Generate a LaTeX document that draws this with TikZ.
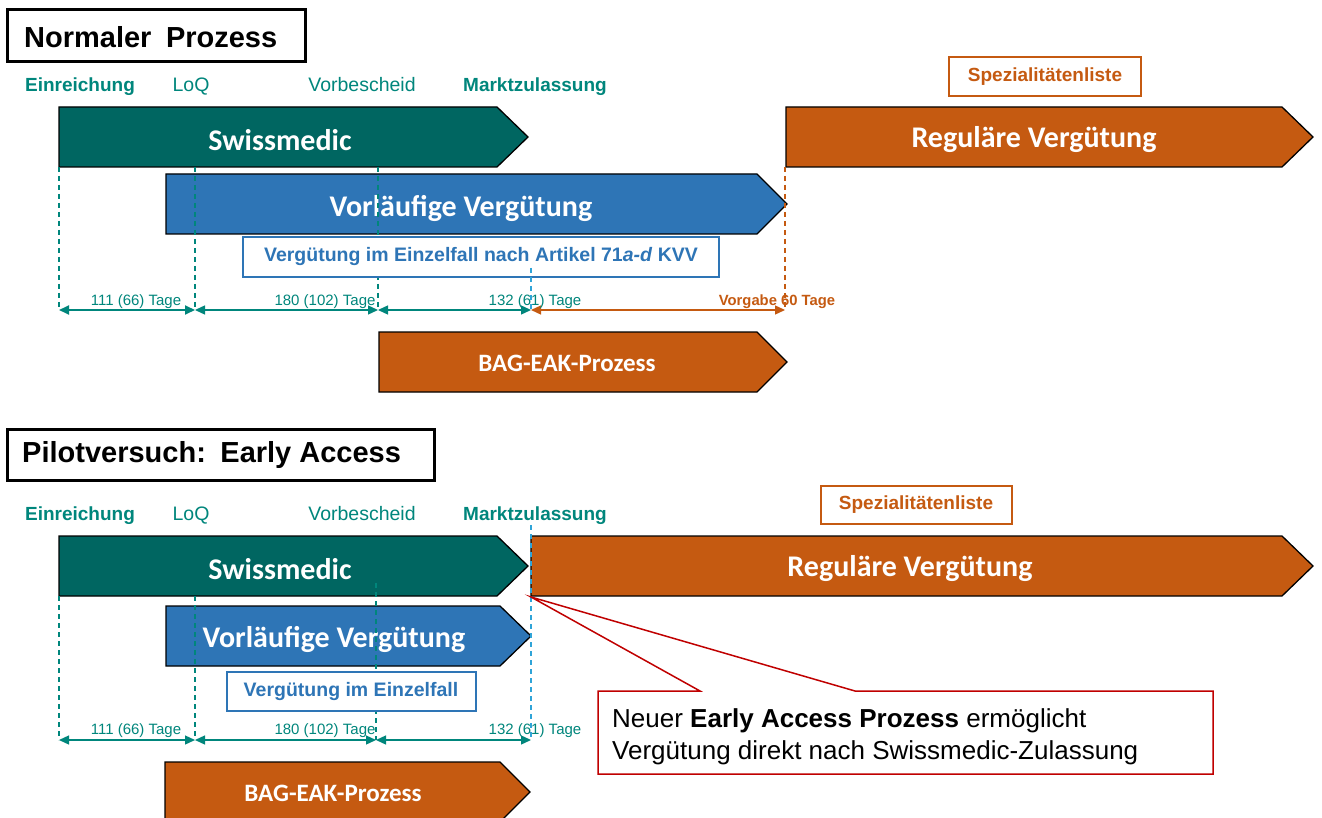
\documentclass[tikz,border=0pt]{standalone}
\usepackage{fontspec}
\setmainfont{Liberation Sans}
\newfontfamily\calfont{Carlito}
\usetikzlibrary{arrows.meta}
\definecolor{smteal}{HTML}{006661}
\definecolor{lblteal}{HTML}{00867C}
\definecolor{vblue}{HTML}{2E75B6}
\definecolor{borange}{HTML}{C55A11}
\definecolor{cred}{HTML}{C00000}
\definecolor{lblue}{HTML}{2FA4D8}
\tikzset{
  chev/.style={draw=black, line width=1.3pt},
  chevtext/.style={text=white, font=\calfont\bfseries\fontsize{30}{32}\selectfont, inner sep=0pt, yshift=-2pt},
  bagtext/.style={text=white, font=\calfont\bfseries\fontsize{25}{28}\selectfont, inner sep=0pt, yshift=-1pt},
  titlebox/.style={draw=black, line width=3pt, fill=white},
  titletext/.style={font=\bfseries\fontsize{29}{32}\selectfont, anchor=west, inner sep=0pt},
  mslabel/.style={text=lblteal, font=\fontsize{19.5}{22}\selectfont, inner sep=0pt, anchor=base},
  msbold/.style={mslabel, font=\bfseries\fontsize{19}{22}\selectfont},
  tage/.style={text=lblteal, font=\fontsize{15}{16}\selectfont, inner sep=0pt},
  vline/.style={lblteal, line width=1.2pt, dash pattern=on 5pt off 4pt},
  dimarrow/.style={lblteal, line width=1.3pt, {Triangle[length=10pt,width=9pt]}-{Triangle[length=10pt,width=9pt]}},
  bluebox/.style={draw=vblue, line width=2.5pt, fill=white},
  bluetext/.style={text=vblue, font=\bfseries\fontsize{19.5}{22}\selectfont, inner sep=0pt},
  orangebox/.style={draw=borange, line width=2.5pt, fill=white},
  orangetext/.style={text=borange, font=\bfseries\fontsize{19}{22}\selectfont, inner sep=0pt},
  callouttext/.style={font=\fontsize{26}{32}\selectfont, anchor=base west, inner sep=0pt},
}
\begin{document}
\begin{tikzpicture}[x=1pt,y=-1pt]
\useasboundingbox[fill=white] (0,0) rectangle (1322,818);

% ================= TOP: Normaler Prozess =================
\draw[titlebox] (7,10) rectangle (305,62);
\node[titletext] (t1) at (24,37) {Normaler\hspace{0.5em}Prozess};

\node[msbold]  (ein1) at (80,92) {Einreichung};
\node[mslabel] (loq1) at (191,92) {LoQ};
\node[mslabel] (vor1) at (362,92) {Vorbescheid};
\node[msbold]  (mz1)  at (535,92) {Marktzulassung};

\draw[orangebox] (949,57) rectangle (1141,96);
\node[orangetext] (sl1) at (1045,76.5) {Spezialitätenliste};

% chevrons
\path[chev, fill=smteal] (59,107) -- (497,107) -- (528,137) -- (497,167) -- (59,167) -- cycle;
\node[chevtext] (sm1) at (280,138) {Swissmedic};
\path[chev, fill=borange] (786,107) -- (1282,107) -- (1313,137) -- (1282,167) -- (786,167) -- cycle;
\node[chevtext] (rv1) at (1034,138) {Reguläre Vergütung};
\path[chev, fill=vblue] (166,174) -- (757,174) -- (787,204) -- (757,234) -- (166,234) -- cycle;
\node[chevtext] (vv1) at (461,206) {Vorläufige Vergütung};

% dashed verticals
\coordinate (a1t) at (59,167);  \coordinate (a1) at (59,310);
\coordinate (b1t) at (195,167); \coordinate (b1) at (195,310);
\coordinate (c1t) at (378,167); \coordinate (c1) at (378,310);
\coordinate (d1t) at (531,268); \coordinate (d1) at (531,310);
\coordinate (e1t) at (785,167); \coordinate (e1) at (785,310);
\draw[vline] (a1t) -- (a1);
\draw[vline] (b1t) -- (b1);
\draw[vline] (c1t) -- (c1);
\draw[vline, borange] (e1t) -- (e1);

\draw[bluebox] (243,237) rectangle (719,277);
\node[bluetext] (ve1) at (481,257) {Vergütung im Einzelfall nach Artikel 71\textit{a-d} KVV};

\draw[vline, lblue] (d1t) -- (d1);

% dimension arrows
\draw[dimarrow, line width=1.8pt] (a1) -- (b1);
\draw[dimarrow] (b1) -- (c1);
\draw[dimarrow] (c1) -- (d1);
\draw[dimarrow, borange] (d1) -- (e1);
\node[tage] (ta1) at (136,302) {111 (66) Tage};
\node[tage] (tb1) at (325,302) {180 (102) Tage};
\node[tage] (tc1) at (535,302) {132 (61) Tage};
\node[tage, text=borange, font=\bfseries\fontsize{14.8}{16}\selectfont] (td1) at (777,302) {Vorgabe 60 Tage};

\path[chev, fill=borange] (379,332) -- (757,332) -- (787,362) -- (757,392) -- (379,392) -- cycle;
\node[bagtext] (bag1) at (567,362) {BAG-EAK-Prozess};

% ================= BOTTOM: Pilotversuch =================
\draw[titlebox] (7,429) rectangle (434,480);
\node[titletext] (t2) at (22,455) {Pilotversuch:\hspace{0.5em}Early Access};

\node[msbold]  (ein2) at (80,520) {Einreichung};
\node[mslabel] (loq2) at (191,520) {LoQ};
\node[mslabel] (vor2) at (362,520) {Vorbescheid};
\node[msbold]  (mz2)  at (535,520) {Marktzulassung};

\draw[orangebox] (821,486) rectangle (1012,524);
\node[orangetext] (sl2) at (916,505) {Spezialitätenliste};

\path[chev, fill=smteal] (59,536) -- (497,536) -- (528,566) -- (497,596) -- (59,596) -- cycle;
\node[chevtext] (sm2) at (280,567) {Swissmedic};
\path[chev, fill=borange] (531,536) -- (1282,536) -- (1313,566) -- (1282,596) -- (531,596) -- cycle;
\node[chevtext] (rv2) at (910,567) {Reguläre Vergütung};
\path[chev, fill=vblue] (166,606) -- (500,606) -- (531,636) -- (500,666) -- (166,666) -- cycle;
\node[chevtext] (vv2) at (334,637) {Vorläufige Vergütung};

\coordinate (a2t) at (59,596);  \coordinate (a2) at (59,740);
\coordinate (b2t) at (195,596); \coordinate (b2) at (195,740);
\coordinate (c2t) at (376,583); \coordinate (c2) at (376,740);
\coordinate (d2t) at (531,525); \coordinate (d2) at (531,740);
\draw[vline] (a2t) -- (a2);
\draw[vline] (b2t) -- (b2);
\draw[vline] (c2t) -- (c2);

\draw[bluebox] (227,672) rectangle (476,711);
\node[bluetext] (ve2) at (351,691.5) {Vergütung im Einzelfall};

\draw[vline, lblue] (d2t) -- (d2);

\draw[dimarrow] (a2) -- (b2);
\draw[dimarrow] (b2) -- (c2);
\draw[dimarrow] (c2) -- (d2);
\node[tage] (ta2) at (136,731) {111 (66) Tage};
\node[tage] (tb2) at (325,731) {180 (102) Tage};
\node[tage] (tc2) at (535,731) {132 (61) Tage};

\path[chev, fill=borange] (165,762) -- (500,762) -- (530,792) -- (500,822) -- (165,822) -- cycle;
\node[bagtext] (bag2) at (333,792) {BAG-EAK-Prozess};

% callout
\coordinate (tip) at (531,597);
\draw[cred, line width=1.5pt, fill=white] (598,691) -- (700,691) -- (tip) -- (855,691) -- (1213,691) -- (1213,774) -- (598,774) -- cycle;
\node[callouttext] (co1) at (612,727) {Neuer \textbf{Early Access Prozess} ermöglicht};
\node[callouttext] (co2) at (612,759) {Vergütung direkt nach Swissmedic-Zulassung};
\end{tikzpicture}
\end{document}
